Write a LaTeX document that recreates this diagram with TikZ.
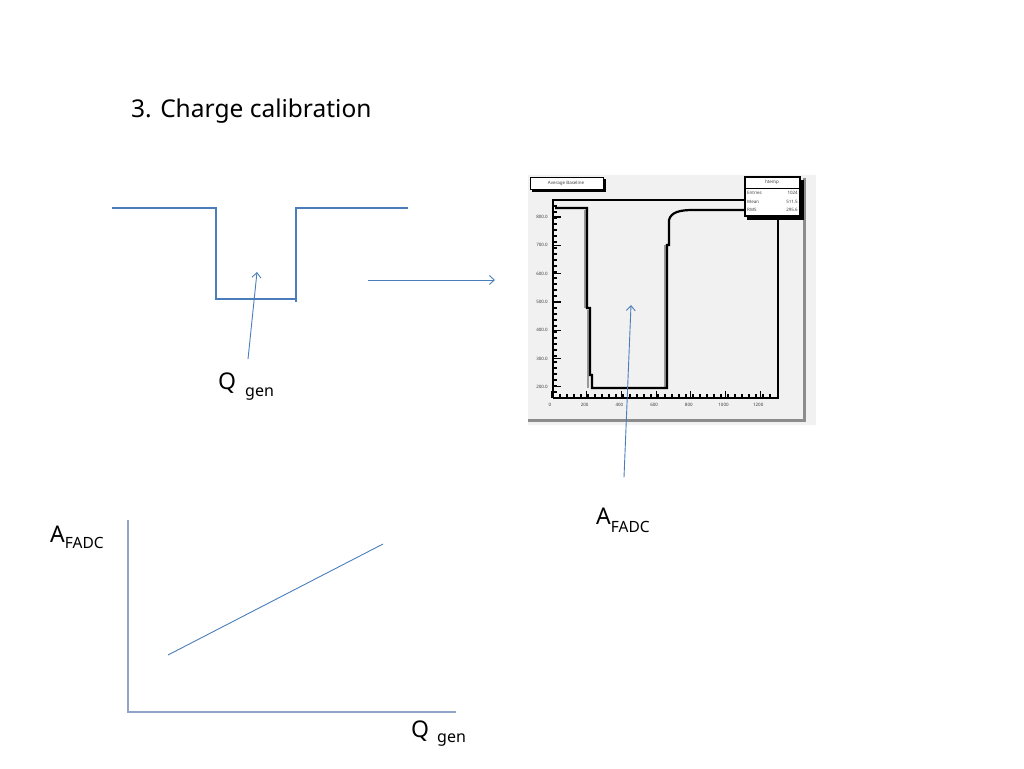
\documentclass[tikz,border=0pt]{standalone}
\usepackage{fontspec}
\setmainfont{Noto Sans}
\usetikzlibrary{arrows.meta}
\definecolor{pptblue}{RGB}{74,126,187}
\definecolor{axisblue}{RGB}{143,164,198}
\definecolor{histbg}{RGB}{241,241,241}
\begin{document}
\begin{tikzpicture}[x=1pt, y=-1pt,
  wire/.style = {draw=pptblue, line width=1.1pt},
  axisline/.style = {draw=axisblue, line width=1.3pt},
  pointer/.style = {draw=pptblue, line width=0.9pt, -{Straight Barb[length=5pt,width=9pt]}},
  label/.style = {inner sep=0pt, anchor=base west, font=\fontsize{23}{27}\selectfont},
  ticklabel/.style = {inner sep=0pt, text=black!75, font=\fontsize{4.5}{5}\selectfont}]
\useasboundingbox (0,0) rectangle (1024,768);

\node[anchor=base west, inner sep=0pt, font=\fontsize{24.5}{29}\selectfont] (title) at (131,117) {3. Charge calibration};

% input pulse
\draw[wire] (112,208) -- (216,208) -- (216,299) -- (296,299);
\draw[wire] (296,302) -- (296,208) -- (408,208);
\node[label] (qgen) at (218,389) {Q\hspace{9pt}\raisebox{-7pt}{\fontsize{16}{18}\selectfont gen}};
\coordinate (qtip) at (257,272);
\draw[pointer] ([xshift=30pt,yshift=13pt]qgen.north west) -- (qtip);

\coordinate (sig) at (368,280);
\coordinate (histin) at (495,280);
\draw[pointer] (sig) -- (histin);

% FADC histogram
\fill[histbg] (528,175) rectangle (816,425);
\draw[black!45, line width=3pt] (528,420) -- (804,420) -- (804,178);
\draw[line width=2.4pt] (553,398) -- (553,200) -- (745,200);
\draw[line width=2.4pt] (778,216) -- (778,398) -- (553,398);
\foreach \y in {392,386,...,206} \draw[line width=1.2pt] (553,\y) -- (557,\y);
\foreach \x in {560,567,...,775} \draw[line width=1.2pt] (\x,398) -- (\x,394);
\foreach \v [count=\i from 0] in {800.0,700.0,600.0,500.0,400.0,300.0,200.0} {
  \draw[line width=1.2pt] (553,217+28.3*\i) -- (561,217+28.3*\i);
  \node[ticklabel, anchor=east] at (548,217+28.3*\i) {\v};
}
\foreach \v [count=\i from 0] in {0,200,400,600,800,1000,1200} {
  \draw[line width=1.2pt] (552+34.7*\i,398) -- (552+34.7*\i,391);
  \node[ticklabel, anchor=north] at (550+34.7*\i,403) {\v};
}
\draw[black!40, line width=2pt] (585,210) -- (585,308) (588,310) -- (588,388) (665,388) -- (665,245);
\draw[line width=2.2pt] (555,208) -- (587,208) -- (587,308) -- (590,308) -- (590,375) -- (592,375) -- (592,388)
  -- (667,388) -- (667,245) -- (669,245) -- (669,220) .. controls (671,212) and (680,210) .. (693,210) -- (745,210);
% title and stat boxes
\draw[line width=2.5pt] (605,179) -- (605,191) -- (532,191);
\draw[fill=white, line width=1pt] (530,177) rectangle (603,189);
\node[ticklabel] at (566,183) {Average Baseline};
\draw[line width=3pt] (802,180) -- (802,218) -- (747,218);
\draw[fill=white, line width=1.5pt] (745,177) rectangle (800,216);
\draw[line width=1pt] (745,188) -- (800,188);
\node[ticklabel] at (772,182) {htemp};
\node[ticklabel, anchor=west] at (747,193) {Entries};
\node[ticklabel, anchor=east] at (798,193) {1024};
\node[ticklabel, anchor=west] at (747,202) {Mean};
\node[ticklabel, anchor=east] at (798,202) {511.5};
\node[ticklabel, anchor=west] at (747,210) {RMS};
\node[ticklabel, anchor=east] at (798,210) {295.6};

\node[label] (afadc) at (596,524) {A\raisebox{-8pt}{\fontsize{15.5}{18}\selectfont FADC}};
\coordinate (atip) at (631,305);
\draw[pointer] ([xshift=28pt,yshift=30pt]afadc.north west) -- (atip);

% calibration line
\coordinate (origin) at (128,712);
\coordinate (ytop) at (128,520);
\coordinate (xend) at (456,712);
\draw[axisline] (ytop) -- (origin) -- (xend);
\coordinate (lo) at (168,655);
\coordinate (hi) at (383,544);
\draw[wire, line width=0.9pt] (lo) -- (hi);
\node[label] (ylab) at (50,542) {A\raisebox{-6pt}{\fontsize{15.5}{18}\selectfont FADC}};
\node[label] (xlab) at (411,737) {Q\hspace{8pt}\raisebox{-5pt}{\fontsize{16}{18}\selectfont gen}};
\end{tikzpicture}
\end{document}
